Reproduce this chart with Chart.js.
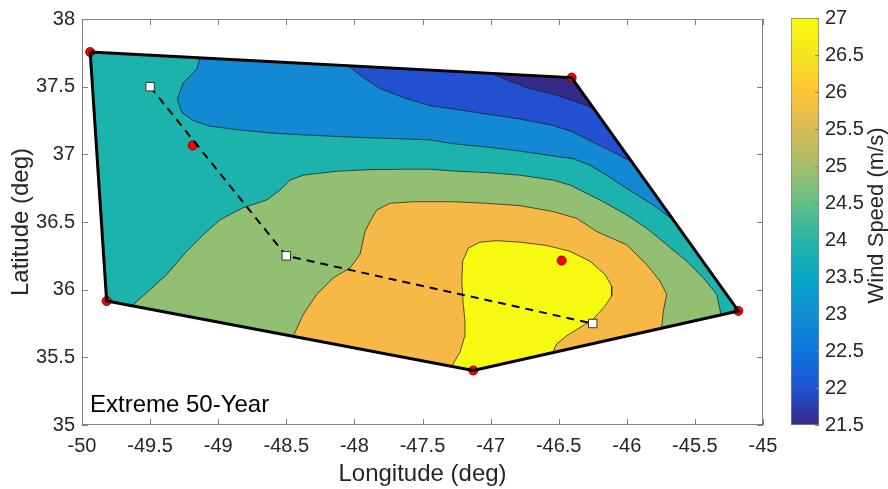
<!DOCTYPE html>
<html>
<head>
<meta charset="utf-8">
<script src="https://cdn.jsdelivr.net/npm/chart.js@4.4.0/dist/chart.umd.min.js"></script>
<style>
  html,body{margin:0;padding:0;background:#fff;}
  #wrap{position:relative;width:888px;height:489px;}
  #wrap canvas{position:absolute;left:0;top:0;}
</style>
</head>
<body>
<div id="wrap">
  <canvas id="map" width="888" height="489"></canvas>
  <canvas id="cbar" width="888" height="489"></canvas>
</div>
<script>
// ====== DATA ======
// outer stations (lon, lat): TL, TR, R, B, LB
const hullLon = [-49.94, -46.405, -45.181, -47.127, -49.819];
const hullLat = [37.756, 37.567, 35.843, 35.403, 35.916];
// inner stations
const innerLon = [-49.187, -46.478];
const innerLat = [37.066, 36.215];
// dashed track
const trackLon = [-49.5, -48.5, -46.25];
const trackLat = [37.5, 36.25, 35.75];

// contour levels (m/s) and fill colours
const levels = [21.5, 22, 23, 24, 25, 26, 27];
const levelColors = ['#352a87', '#2350d0', '#1389d3', '#1bb3ac', '#93bf73', '#f6b946', '#f6f910'];

// contour lines, [lon, lat]
const c22 = [[-46.992,37.598],[-46.882,37.550],[-46.711,37.486],[-46.540,37.445],[-46.393,37.396],[-46.294,37.359],[-46.24,37.335]];
const c23 = [[-48.045,37.655],[-47.935,37.567],[-47.812,37.486],[-47.641,37.420],[-47.445,37.359],[-47.274,37.335],[-47.029,37.298],
  [-46.784,37.261],[-46.540,37.213],[-46.393,37.164],[-46.246,37.090],[-46.099,37.017],[-45.962,36.943]];
const c24 = [[-49.134,37.713],[-49.158,37.628],[-49.256,37.530],[-49.300,37.408],[-49.268,37.310],[-49.183,37.249],[-49.060,37.208],
  [-48.864,37.183],[-48.620,37.158],[-48.375,37.144],[-48.130,37.132],[-47.886,37.122],[-47.641,37.114],[-47.445,37.107],
  [-47.274,37.078],[-47.029,37.054],[-46.784,37.024],[-46.540,36.988],[-46.393,36.968],[-46.270,36.919],[-46.148,36.846],
  [-46.001,36.748],[-45.806,36.626],[-45.659,36.516]];
const c25 = [[-49.635,35.881],[-49.525,35.977],[-49.378,36.112],[-49.231,36.283],[-49.109,36.406],[-48.987,36.516],[-48.816,36.606],
  [-48.644,36.662],[-48.546,36.736],[-48.473,36.809],[-48.375,36.846],[-48.130,36.875],[-47.886,36.887],[-47.641,36.890],
  [-47.445,36.890],[-47.274,36.877],[-47.029,36.865],[-46.784,36.846],[-46.540,36.809],[-46.417,36.773],[-46.294,36.711],
  [-46.173,36.650],[-46.001,36.552],[-45.854,36.454],[-45.707,36.332],[-45.560,36.210],[-45.438,36.087],[-45.340,35.965],
  [-45.308,35.814]];
const c26 = [[-48.449,35.655],[-48.375,35.819],[-48.277,35.965],[-48.155,36.087],[-48.032,36.161],[-47.959,36.259],[-47.922,36.430],
  [-47.886,36.503],[-47.836,36.589],[-47.739,36.638],[-47.568,36.650],[-47.274,36.650],[-47.029,36.638],[-46.784,36.621],
  [-46.540,36.577],[-46.368,36.527],[-46.221,36.430],[-46.001,36.332],[-45.854,36.186],[-45.756,36.063],[-45.707,35.965],
  [-45.732,35.843],[-45.744,35.716]];
const c27 = [[-47.286,35.433],[-47.225,35.537],[-47.193,35.647],[-47.188,35.770],[-47.201,35.892],[-47.212,36.063],[-47.205,36.210],
  [-47.164,36.307],[-47.078,36.351],[-46.955,36.362],[-46.784,36.351],[-46.588,36.327],[-46.417,36.283],[-46.270,36.210],
  [-46.160,36.112],[-46.111,36.026],[-46.111,35.953],[-46.160,35.880],[-46.246,35.782],[-46.344,35.720],[-46.441,35.660],
  [-46.515,35.599],[-46.545,35.535]];

const caseLabel = 'Extreme 50-Year';

// parula stops for the colour bar
const parula = ['#352a87','#2053d4','#0d75dc','#108ed2','#06a7c6','#25b5a9','#65be86','#a5be6b','#d9ba56','#ffc337','#f5e41d','#f9fb0e'];

Chart.defaults.font.family = "'Liberation Sans', Arial, sans-serif";
Chart.defaults.color = '#262626';

// ====== BUILD SHAPES ======
const pts = a => a.map(p => ({x:p[0], y:p[1]}));
const hull = hullLon.map((x,i) => ({x, y:hullLat[i]}));
const [TL, TR, R, B, LB] = hull;
const regions = [
  [TL, TR, R, B, LB, TL],
  [TL, ...pts(c22), R, B, LB, TL],
  [TL, ...pts(c23), R, B, LB, TL],
  [TL, ...pts(c24), R, B, LB, TL],
  [...pts(c25), B, pts(c25)[0]],
  [...pts(c26), B, pts(c26)[0]],
  [...pts(c27), B, pts(c27)[0]]
];

const fillSets = regions.map((d,i) => ({
  data:d, showLine:true, fill:'shape', backgroundColor:levelColors[i],
  borderColor:'rgba(25,25,25,0.9)', borderWidth:0.8, pointRadius:0, order:100-i
}));

const numLabel = v => String(+v.toFixed(2));

// ====== PLUGINS ======
const frame = {
  id:'frame',
  afterDatasetsDraw(chart, args, opts){
    const {ctx, chartArea:a, scales} = chart;
    ctx.save();
    ctx.strokeStyle = opts.color;
    ctx.lineWidth = 1;
    ctx.beginPath();
    (opts.x ? scales.x.ticks : []).forEach(t => {
      const px = Math.round(scales.x.getPixelForValue(t.value)) + 0.5;
      ctx.moveTo(px, a.bottom); ctx.lineTo(px, a.bottom - opts.len);
      ctx.moveTo(px, a.top); ctx.lineTo(px, a.top + opts.len);
    });
    scales.y.ticks.forEach(t => {
      const py = Math.round(scales.y.getPixelForValue(t.value)) + 0.5;
      if(opts.x){ ctx.moveTo(a.left, py); ctx.lineTo(a.left + opts.len, py); }
      ctx.moveTo(a.right, py); ctx.lineTo(a.right - opts.len, py);
    });
    ctx.stroke();
    if(opts.box) ctx.strokeRect(a.left + 0.5, a.top + 0.5, a.right - a.left - 1, a.bottom - a.top - 1);
    if(opts.text){
      ctx.fillStyle = '#000';
      ctx.font = "24px 'Liberation Sans', Arial, sans-serif";
      ctx.textBaseline = 'alphabetic';
      ctx.fillText(opts.text, a.left + 8, a.bottom - 13);
    }
    if(opts.sideTitle){
      ctx.fillStyle = '#262626';
      ctx.font = "22px 'Liberation Sans', Arial, sans-serif";
      ctx.textAlign = 'center';
      ctx.textBaseline = 'middle';
      ctx.translate(877, (a.top + a.bottom) / 2 - 6);
      ctx.rotate(-Math.PI / 2);
      ctx.fillText(opts.sideTitle, 0, 0);
    }
    ctx.restore();
  }
};

// ====== MAP ======
new Chart(document.getElementById('map'), {
  type:'scatter',
  data:{
    datasets:[
      ...fillSets,
      {data:pts(hullLon.map((x,i)=>[x,hullLat[i]]).concat([[hullLon[0],hullLat[0]]])), showLine:true,
        borderColor:'#000', borderWidth:3, pointRadius:0, fill:false, order:3},
      {data:pts(hullLon.concat(innerLon).map((x,i)=>[x, hullLat.concat(innerLat)[i]])), showLine:false,
        pointRadius:4.5, backgroundColor:'#ff0000', borderColor:'#8a0000', borderWidth:1, order:4},
      {data:pts(trackLon.map((x,i)=>[x,trackLat[i]])), showLine:true, borderColor:'#000', borderWidth:2,
        borderDash:[8,6], pointRadius:0, fill:false, order:1},
      {data:pts(trackLon.map((x,i)=>[x,trackLat[i]])), showLine:false, pointStyle:'rect', pointRadius:6,
        backgroundColor:'#fff', borderColor:'#333', borderWidth:1, order:0}
    ]
  },
  options:{
    responsive:false, animation:false, devicePixelRatio:1,
    layout:{padding:{top:16, right:125, left:0, bottom:0}},
    plugins:{legend:{display:false}, tooltip:{enabled:false},
      frame:{color:'#808080', len:6, x:true, box:true, text:caseLabel}},
    scales:{
      x:{type:'linear', min:-50, max:-45,
        ticks:{stepSize:0.5, autoSkip:false, maxRotation:0, padding:9, font:{size:20}, callback:numLabel},
        grid:{display:false, drawTicks:false}, border:{display:false},
        title:{display:true, text:'Longitude (deg)', font:{size:24}, padding:{top:0, bottom:0}},
        afterFit: s => { s.height = 64; }},
      y:{type:'linear', min:35, max:38,
        ticks:{stepSize:0.5, autoSkip:false, padding:7, font:{size:20}, callback:numLabel},
        grid:{display:false, drawTicks:false}, border:{display:false},
        title:{display:true, text:'Latitude (deg)', font:{size:24}, padding:{top:7, bottom:0}},
        afterFit: s => { s.width = 82; }}
    }
  },
  plugins:[frame]
});

// ====== COLOUR BAR ======
function barGradient(chart){
  const a = chart.chartArea;
  if(!a) return parula[0];
  const g = chart.ctx.createLinearGradient(0, a.bottom, 0, a.top);
  parula.forEach((c,i) => g.addColorStop(i / (parula.length - 1), c));
  return g;
}

new Chart(document.getElementById('cbar'), {
  type:'bar',
  data:{labels:[''], datasets:[{data:[[levels[0], levels[levels.length-1]]],
    backgroundColor: c => barGradient(c.chart), borderColor:'#808080', borderWidth:1, borderSkipped:false,
    barPercentage:1, categoryPercentage:1}]},
  options:{
    responsive:false, animation:false, devicePixelRatio:1,
    layout:{padding:{left:791, top:16, bottom:64, right:0}},
    plugins:{legend:{display:false}, tooltip:{enabled:false},
      frame:{color:'#808080', len:4, x:false, box:false, sideTitle:'Wind Speed (m/s)'}},
    scales:{
      x:{display:false},
      y:{position:'right', min:levels[0], max:levels[levels.length-1],
        ticks:{stepSize:0.5, autoSkip:false, padding:6, font:{size:20}, callback:numLabel},
        grid:{display:false, drawTicks:false}, border:{display:false},
        afterFit: s => { s.width = 69; }}
    }
  },
  plugins:[frame]
});
</script>
</body>
</html>
